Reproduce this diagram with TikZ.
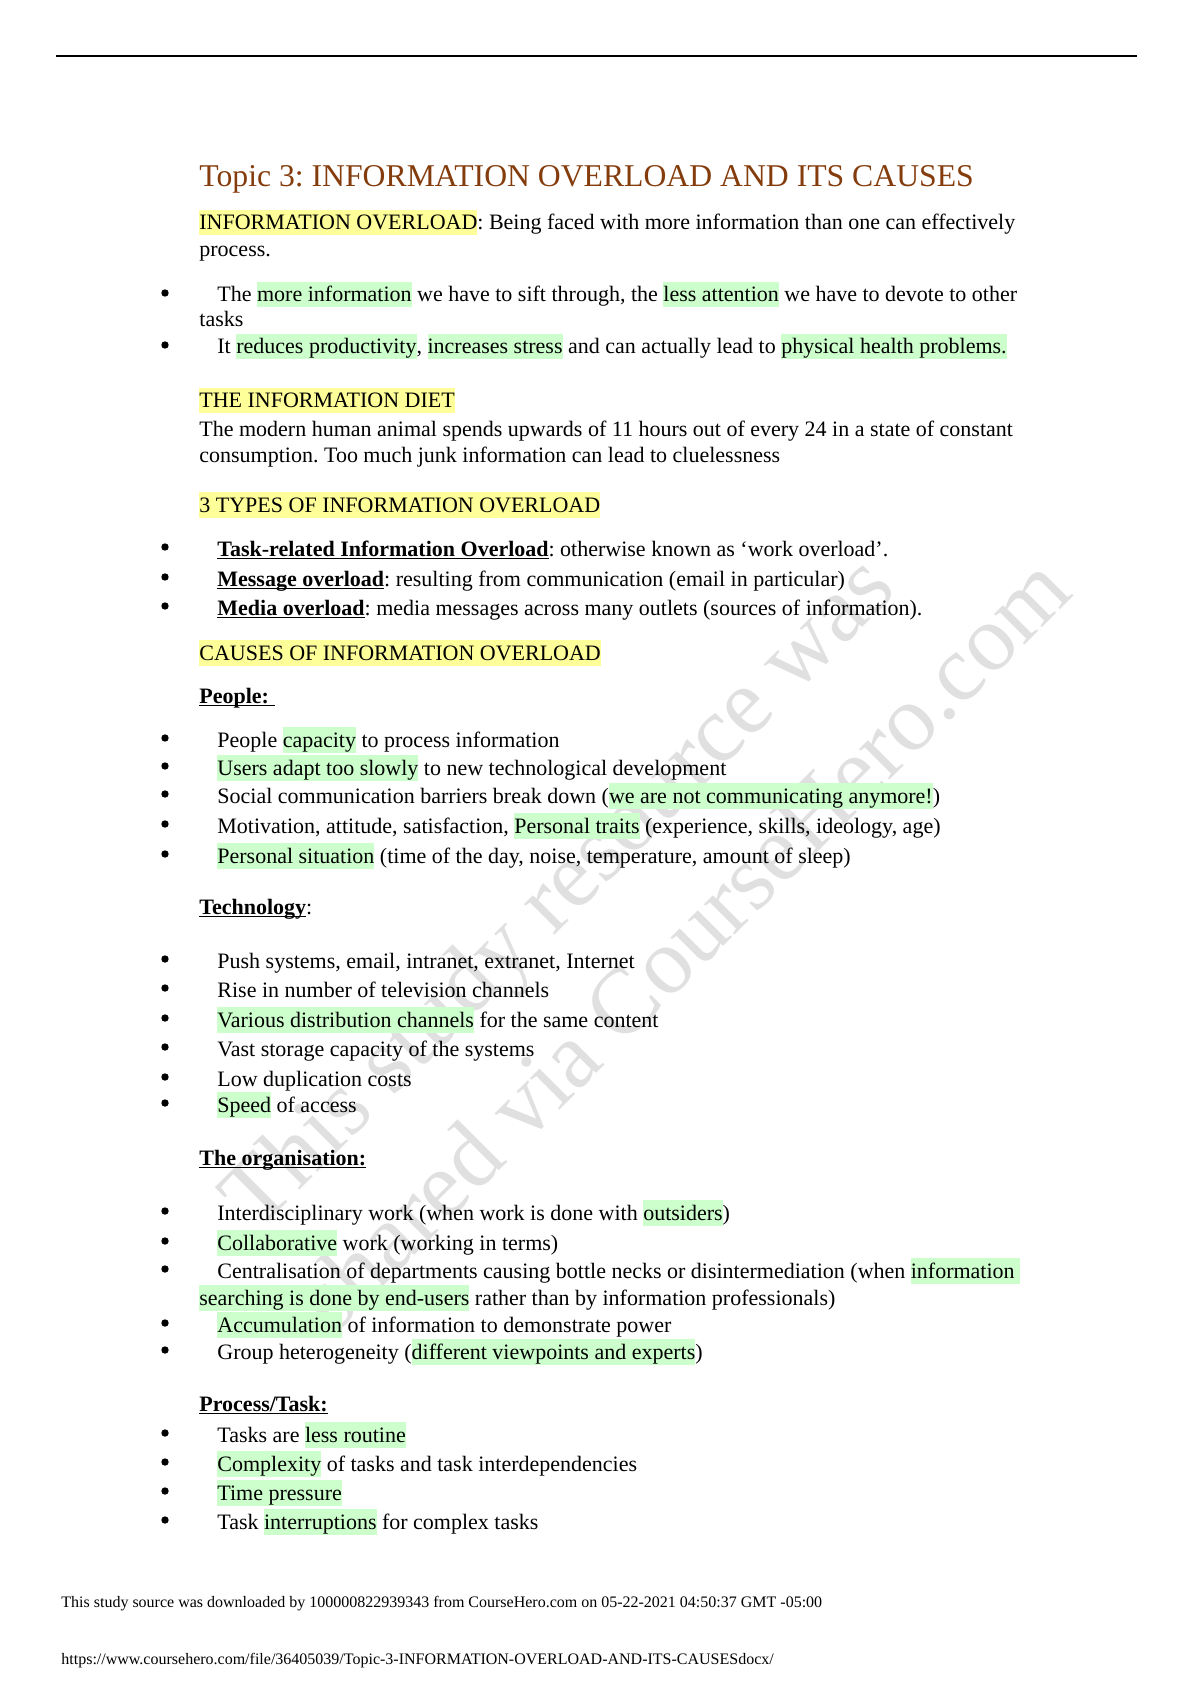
\documentclass[tikz,border=0pt]{standalone}
\usepackage{fontspec}
\setmainfont{Liberation Serif}
\usepackage{tikz}
\frenchspacing

\definecolor{titlebrown}{RGB}{132,60,12}
\definecolor{hlyellow}{RGB}{255,255,153}
\definecolor{hlgreen}{RGB}{204,255,204}
\newcommand\hy[1]{{\setlength\fboxsep{0pt}\colorbox{hlyellow}{\rule[-2.75pt]{0pt}{12.75pt}#1}}}
\newcommand\hg[1]{{\setlength\fboxsep{0pt}\colorbox{hlgreen}{\rule[-2.75pt]{0pt}{12.75pt}#1}}}
\newcommand\undl[1]{\setbox0\hbox{#1}\rlap{\rule[-1.5pt]{\wd0}{0.6pt}}\box0}

\begin{document}
\begin{tikzpicture}
          [x = 0.5pt, y = -0.5pt,
           txt/.style = {anchor = base west, inner sep = 0pt, font = \fontsize{11}{13}\selectfont},
           head/.style = {txt, font = \fontsize{15.85}{19}\selectfont, text = titlebrown},
           foot/.style = {txt, font = \fontsize{8}{10}\selectfont},
           wmark/.style = {anchor = base, inner sep = 0pt, rotate = 45, text = black!12,
                           font = \fontsize{47}{56}\selectfont}]
          \useasboundingbox (0,0) rectangle (1190,1684);
          % watermark
          \node[wmark] (wm1) at (578,912) {This study resource was};
          \node[wmark] (wm2) at (705,965) {shared via CourseHero.com};
          \draw[line width = 1pt] (56,56) -- (1137,56);
          \node[head] (title) at (199,187) {Topic 3: INFORMATION OVERLOAD AND ITS CAUSES};
          \node[txt] (def1) at (199,230) {\hy{INFORMATION OVERLOAD}: Being faced with more information than one can effectively};
          \node[txt] (def2) at (199,257) {process.};
          \node[txt] (more1) at (217,302) {The \hg{more information} we have to sift through, the \hg{less attention} we have to devote to other};
          \node[txt] (more2) at (199,327) {tasks};
          \node[txt] (prod) at (217,354) {It \hg{reduces productivity}, \hg{increases stress} and can actually lead to \hg{physical health problems.}};
          \node[txt] (diet) at (199,408) {\hy{THE INFORMATION DIET}};
          \node[txt] (diet1) at (199,437) {The modern human animal spends upwards of 11 hours out of every 24 in a state of constant};
          \node[txt] (diet2) at (199,462) {consumption. Too much junk information can lead to cluelessness};
          \node[txt] (types) at (199,512) {\hy{3 TYPES OF INFORMATION OVERLOAD}};
          \node[txt] (task) at (217,556) {\undl{\textbf{Task-related Information Overload}}: otherwise known as ‘work overload’.};
          \node[txt] (msg) at (217,586) {\undl{\textbf{Message overload}}: resulting from communication (email in particular)};
          \node[txt] (media) at (217,615) {\undl{\textbf{Media overload}}: media messages across many outlets (sources of information).};
          \node[txt] (causes) at (199,660) {\hy{CAUSES OF INFORMATION OVERLOAD}};
          % people
          \node[txt] (people) at (199,703) {\undl{\textbf{People:\ }}};
          \node[txt] (p1) at (217,747) {People \hg{capacity} to process information};
          \node[txt] (p2) at (217,775) {\hg{Users adapt too slowly} to new technological development};
          \node[txt] (p3) at (217,803) {Social communication barriers break down (\hg{we are not communicating anymore!})};
          \node[txt] (p4) at (217,833) {Motivation, attitude, satisfaction, \hg{Personal traits} (experience, skills, ideology, age)};
          \node[txt] (p5) at (217,863) {\hg{Personal situation} (time of the day, noise, temperature, amount of sleep)};
          % technology
          \node[txt] (tech) at (199,914) {\undl{\textbf{Technology}}:};
          \node[txt] (t1) at (217,968) {Push systems, email, intranet, extranet, Internet};
          \node[txt] (t2) at (217,997) {Rise in number of television channels};
          \node[txt] (t3) at (217,1027) {\hg{Various distribution channels} for the same content};
          \node[txt] (t4) at (217,1056) {Vast storage capacity of the systems};
          \node[txt] (t5) at (217,1086) {Low duplication costs};
          \node[txt] (t6) at (217,1112) {\hg{Speed} of access};
          % organisation
          \node[txt] (org) at (199,1165) {\undl{\textbf{The organisation:}}};
          \node[txt] (o1) at (217,1220) {Interdisciplinary work (when work is done with \hg{outsiders})};
          \node[txt] (o2) at (217,1250) {\hg{Collaborative} work (working in terms)};
          \node[txt] (o3) at (217,1278) {Centralisation of departments causing bottle necks or disintermediation (when \hg{information\ }};
          \node[txt] (o3b) at (199,1305) {\hg{searching is done by end-users} rather than by information professionals)};
          \node[txt] (o4) at (217,1332) {\hg{Accumulation} of information to demonstrate power};
          \node[txt] (o5) at (217,1359) {Group heterogeneity (\hg{different viewpoints and experts})};
          % process
          \node[txt] (proc) at (199,1411) {\undl{\textbf{Process/Task:}}};
          \node[txt] (k1) at (217,1442) {Tasks are \hg{less routine}};
          \node[txt] (k2) at (217,1471) {\hg{Complexity} of tasks and task interdependencies};
          \node[txt] (k3) at (217,1500) {\hg{Time pressure}};
          \node[txt] (k4) at (217,1529) {Task \hg{interruptions} for complex tasks};
          \foreach \y in {302,354,556,586,615,747,775,803,833,863,968,997,1027,1056,1086,1112,
                          1220,1250,1278,1332,1359,1442,1471,1500,1529}
            \fill (165,\y-9) circle (1.85pt);
          \node[foot] (foot1) at (61,1607) {This study source was downloaded by 100000822939343 from CourseHero.com on 05-22-2021 04:50:37 GMT -05:00};
          \node[foot] (foot2) at (61,1664) {https://www.coursehero.com/file/36405039/Topic-3-INFORMATION-OVERLOAD-AND-ITS-CAUSESdocx/};
        \end{tikzpicture}
\end{document}
